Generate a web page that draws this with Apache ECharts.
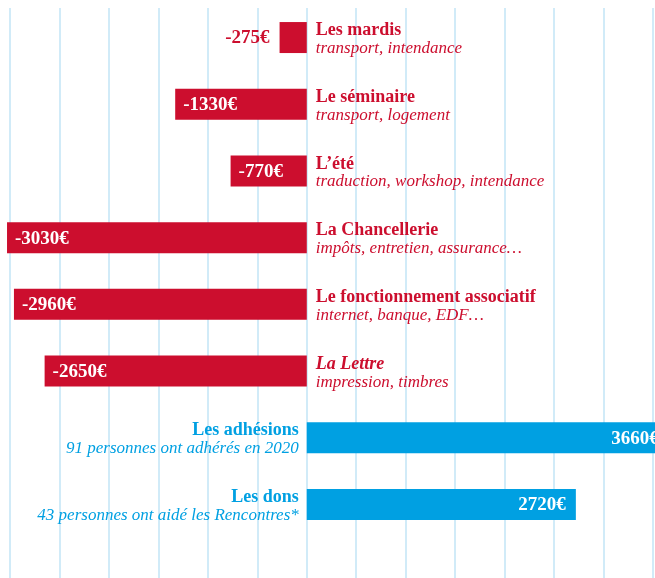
<!DOCTYPE html>
<html>
<head>
<meta charset="utf-8">
<script src="https://cdn.jsdelivr.net/npm/echarts@6/dist/echarts.min.js"></script>
<style>
  html, body { margin: 0; padding: 0; background: #fff; }
  #chart { width: 655px; height: 578px; }
</style>
</head>
<body>
<div id="chart"></div>
<script>
var categories = ['Les mardis', 'Le séminaire', 'L’été', 'La Chancellerie',
    'Le fonctionnement associatif', 'La Lettre', 'Les adhésions', 'Les dons'];
var details = ['transport, intendance', 'transport, logement',
    'traduction, workshop, intendance', 'impôts, entretien, assurance…',
    'internet, banque, EDF…', 'impression, timbres',
    '91 personnes ont adhérés en 2020', '43 personnes ont aidé les Rencontres*'];
var amounts = [-275, -1330, -770, -3030, -2960, -2650, 3660, 2720];

var RED = '#cc0e2e';
var BLUE = '#00a0e2';
var FONT = '"Liberation Serif", "DejaVu Serif", serif';

var mychart = echarts.init(document.getElementById('chart'));

// bars with amounts
var barData = amounts.map(function (v) {
    var item = { value: v, itemStyle: { color: v < 0 ? RED : BLUE } };
    if (v < 0 && v > -500) {
        // too small, label sits outside
        item.label = { position: 'left', distance: 10, color: RED };
    } else if (v < 0) {
        item.label = { position: 'insideLeft', distance: 8, color: '#fff' };
    } else {
        item.label = { position: 'insideRight', distance: 10, color: '#fff' };
    }
    return item;
});

// zero-width bars that carry the names
var nameData = amounts.map(function (v, i) {
    var titleStyle = categories[i] === 'La Lettre' ? 'ti' : 't';
    return {
        value: 0,
        label: {
            show: true,
            position: v < 0 ? 'right' : 'left',
            distance: v < 0 ? 9 : 8,
            align: v < 0 ? 'left' : 'right',
            offset: [0, 2],
            color: v < 0 ? RED : BLUE,
            formatter: '{' + titleStyle + '|' + categories[i] + '}\n{s|' + details[i] + '}'
        }
    };
});

var option = {
    animation: false,
    grid: [
        { left: 0, right: 0, top: 4.2, bottom: 40.2 },
        // second grid only for the vertical guide lines
        { left: 10, right: 2, top: 8, bottom: 0 }
    ],
    xAxis: [{
        type: 'value',
        gridIndex: 0,
        min: -3101,
        max: 3520,
        show: false
    }, {
        type: 'value',
        gridIndex: 1,
        min: -3000,
        max: 3500,
        interval: 500,
        axisLabel: { show: false },
        axisLine: { show: false },
        axisTick: { show: false },
        splitLine: { show: true, lineStyle: { color: '#c2e4f6', width: 1.5 } }
    }],
    yAxis: [{
        type: 'category',
        gridIndex: 0,
        data: categories,
        inverse: true,
        show: false
    }, {
        type: 'value',
        gridIndex: 1,
        min: 0,
        max: 1,
        show: false
    }],
    series: [{
        name: 'montants',
        type: 'bar',
        xAxisIndex: 0,
        yAxisIndex: 0,
        barWidth: 31,
        clip: false,
        z: 3,
        data: barData,
        label: {
            show: true,
            fontFamily: FONT,
            fontWeight: 'bold',
            fontSize: 19,
            offset: [0, 1],
            formatter: function (p) { return p.value + '€'; }
        }
    }, {
        name: 'libellés',
        type: 'bar',
        xAxisIndex: 0,
        yAxisIndex: 0,
        barWidth: 31,
        barGap: '-100%',
        z: 3,
        data: nameData,
        label: {
            show: true,
            fontFamily: FONT,
            rich: {
                t: { fontFamily: FONT, fontWeight: 'bold', fontSize: 18, lineHeight: 18 },
                ti: { fontFamily: FONT, fontWeight: 'bold', fontStyle: 'italic', fontSize: 18, lineHeight: 18 },
                s: { fontFamily: FONT, fontStyle: 'italic', fontSize: 17, lineHeight: 18 }
            }
        }
    }, {
        name: 'guides',
        type: 'line',
        xAxisIndex: 1,
        yAxisIndex: 1,
        data: []
    }]
};

mychart.setOption(option);
</script>
</body>
</html>
